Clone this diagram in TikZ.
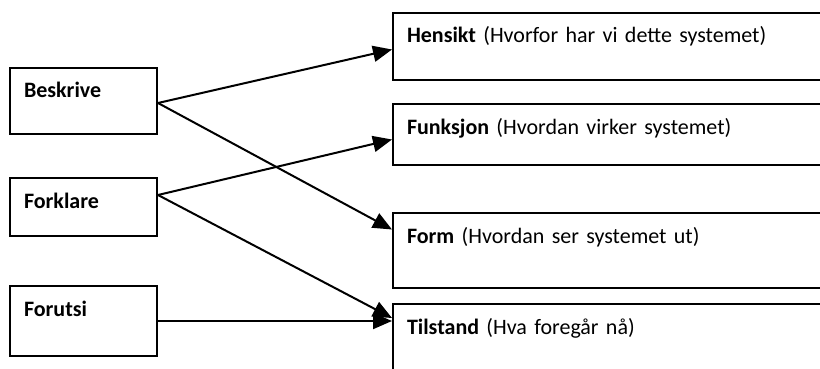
\documentclass[tikz,border=0pt]{standalone}
\usepackage{fontspec}
\setmainfont[WordSpace=0.75]{Carlito}
\usetikzlibrary{arrows.meta,positioning}

\begin{document}
\begin{tikzpicture}[x=1pt,y=-1pt,line width=2pt,>={Triangle[length=19pt,width=16pt]},
   box/.style={draw,anchor=north west,align=left,inner xsep=14pt,inner ysep=15pt,
      text height=15pt,text depth=#1,font=\fontsize{22}{26}\selectfont},
   task/.style={box=#1,text width=119pt},
   aspect/.style={box=#1,text width=420pt}]
   \clip (0,0) rectangle (820,369);
   % left column
   \node[task=21pt] (beskrive) at (9,67) {\textbf{Beskrive}};
   \node[task=13pt] (forklare) at (9,177) {\textbf{Forklare}};
   \node[task=25pt] (forutsi) at (9,285) {\textbf{Forutsi}};
   % right column
   \node[aspect=22pt] (hensikt) at (392,12) {\textbf{Hensikt} (Hvorfor har vi dette systemet)};
   \node[aspect=16pt] (funksjon) at (392,103) {\textbf{Funksjon} (Hvordan virker systemet)};
   \node[aspect=30pt] (form) at (392,212) {\textbf{Form} (Hvordan ser systemet ut)};
   \node[aspect=60pt] (tilstand) at (392,303) {\textbf{Tilstand} (Hva foregår nå)};
    \path[->]
([yshift=-36pt]beskrive.north east) edge ([yshift=-37.5pt]hensikt.north west)
	edge ([yshift=-17.5pt]form.north west)
([yshift=-18pt]forklare.north east) edge ([yshift=-36.5pt]funksjon.north west)
	edge ([yshift=-15pt]tilstand.north west)
([yshift=-36pt]forutsi.north east) edge ([yshift=-18pt]tilstand.north west);
\end{tikzpicture}
\end{document}
